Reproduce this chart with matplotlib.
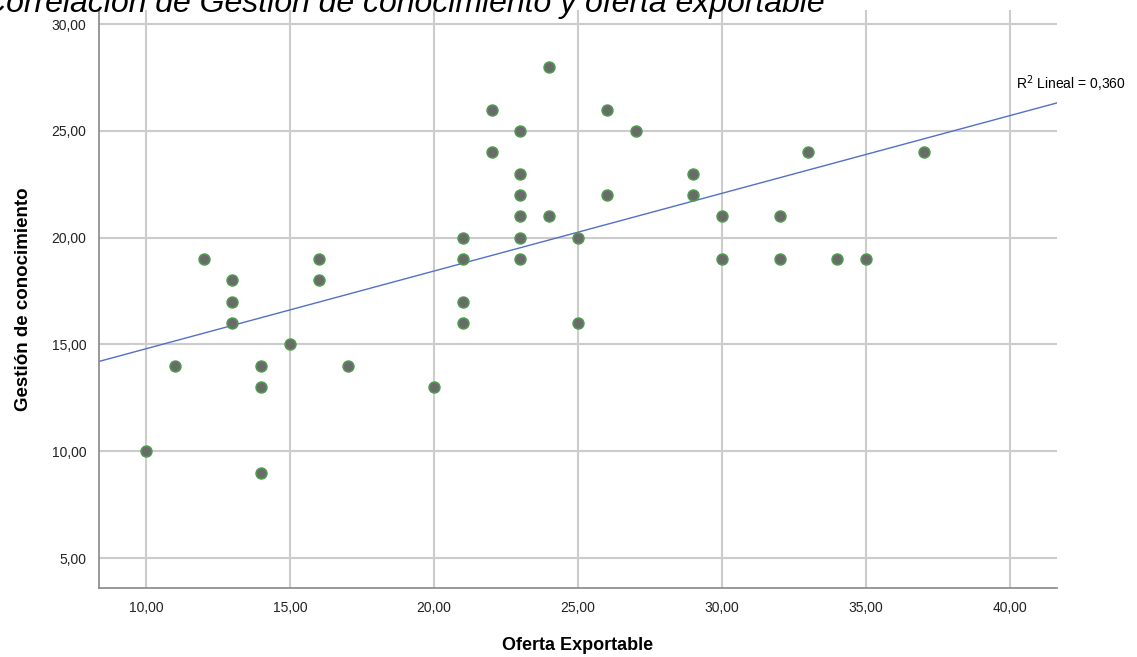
import numpy as np
import matplotlib
matplotlib.use('Agg')
import matplotlib.pyplot as plt
from matplotlib.ticker import FuncFormatter, MultipleLocator

plt.rcParams['font.family'] = ['Liberation Sans', 'DejaVu Sans']

# datos
oferta = [10, 11, 12, 13, 13, 13, 14, 14, 14, 15, 16, 16, 17, 20,
          21, 21, 21, 21, 22, 22, 23, 23, 23, 23, 23, 23, 24, 24,
          25, 25, 26, 26, 27, 29, 29, 30, 30, 32, 32, 33, 34, 35, 37]
gestion = [10, 14, 19, 18, 17, 16, 14, 13, 9, 15, 19, 18, 14, 13,
           20, 19, 17, 16, 26, 24, 25, 23, 22, 21, 20, 19, 28, 21,
           20, 16, 26, 22, 25, 23, 22, 21, 19, 21, 19, 24, 19, 19, 24]
r2_texto = 'R$^2$ Lineal = 0,360'
titulo = 'Correlación de Gestión de conocimiento y oferta exportable'

x = np.array(oferta, dtype=float)
y = np.array(gestion, dtype=float)
m, b = np.polyfit(x, y, 1)

fig = plt.figure(figsize=(11.37, 6.57), dpi=100)
ax = fig.add_axes([0.0871, 0.105, 0.9296 - 0.0871, 0.9848 - 0.105])

xlim = (8.37, 41.63)
ylim = (3.6, 30.66)
ax.set_xlim(xlim)
ax.set_ylim(ylim)

ax.xaxis.set_major_locator(MultipleLocator(5))
ax.yaxis.set_major_locator(MultipleLocator(5))
coma = FuncFormatter(lambda v, p: f'{v:.2f}'.replace('.', ','))
ax.xaxis.set_major_formatter(coma)
ax.yaxis.set_major_formatter(coma)
ax.grid(True, color='#cccccc', linewidth=1.5)
ax.set_axisbelow(True)

for s in ['top', 'right']:
    ax.spines[s].set_visible(False)
for s in ['left', 'bottom']:
    ax.spines[s].set_color('#888888')
    ax.spines[s].set_linewidth(1.2)
ax.tick_params(length=0, labelsize=10, pad=9, colors='#222222')

xx = np.array(xlim)
ax.plot(xx, m * xx + b, color='#5470c6', linewidth=1, zorder=2)
ax.scatter(x, y, s=60, color='#6a6a6a', edgecolors='#4e9a4e', linewidths=1.2, zorder=3)

ax.text(40.2, 26.95, r2_texto, fontsize=10, ha='left', va='baseline', clip_on=False)

ax.set_xlabel('Oferta Exportable', fontsize=13, fontweight='bold', labelpad=16)
ax.set_ylabel('Gestión de conocimiento', fontsize=13.5, fontweight='bold', labelpad=14)

fig.text(-17 / 1137, 1 - 12 / 657, titulo, fontsize=23, style='italic',
         ha='left', va='baseline')

fig.savefig('out.png', dpi=100)
